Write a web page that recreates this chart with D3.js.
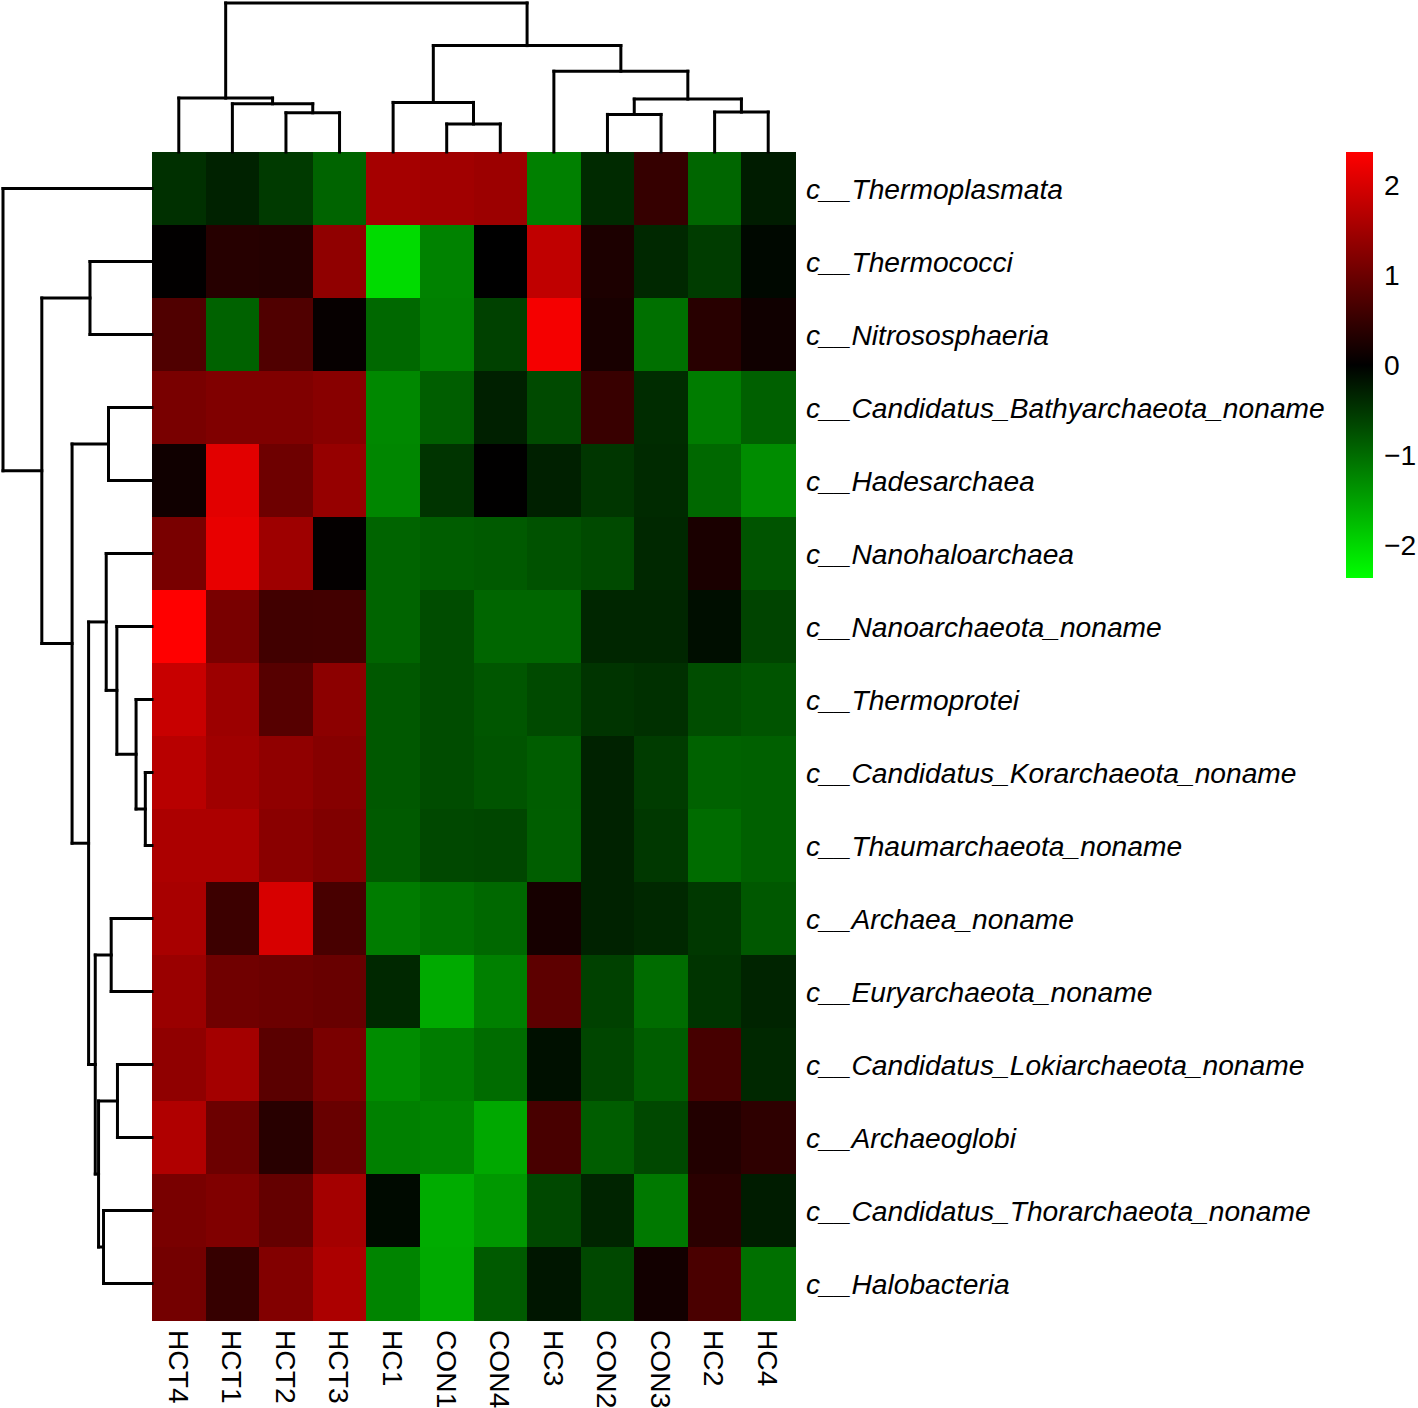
<!DOCTYPE html>
<html>
<head>
<meta charset="utf-8">
<script src="https://cdn.jsdelivr.net/npm/d3@7"></script>
<style>
  html, body { margin: 0; padding: 0; background: #fff; }
  svg { display: block; }
</style>
</head>
<body>
<svg id="chart" width="1418" height="1408"></svg>
<script>
// ---------------- DATA ----------------
const columns = ["HCT4","HCT1","HCT2","HCT3","HC1","CON1","CON4","HC3","CON2","CON3","HC2","HC4"];
const rows = [
  "c__Thermoplasmata",
  "c__Thermococci",
  "c__Nitrososphaeria",
  "c__Candidatus_Bathyarchaeota_noname",
  "c__Hadesarchaea",
  "c__Nanohaloarchaea",
  "c__Nanoarchaeota_noname",
  "c__Thermoprotei",
  "c__Candidatus_Korarchaeota_noname",
  "c__Thaumarchaeota_noname",
  "c__Archaea_noname",
  "c__Euryarchaeota_noname",
  "c__Candidatus_Lokiarchaeota_noname",
  "c__Archaeoglobi",
  "c__Candidatus_Thorarchaeota_noname",
  "c__Halobacteria"
];
// z-scores, one array per row, in column order above
const values = [
  [-0.45, -0.32, -0.54, -0.93,  1.53,  1.50,  1.45, -1.19, -0.39,  0.49, -0.95, -0.26],
  [ 0.02,  0.35,  0.33,  1.34, -2.04, -1.21,  0.00,  1.78,  0.26, -0.37, -0.56, -0.07],
  [ 0.74, -0.91,  0.74,  0.06, -0.97, -1.19, -0.60,  2.28,  0.22, -1.04,  0.37,  0.15],
  [ 1.12,  1.19,  1.19,  1.26, -1.26, -0.87, -0.30, -0.69,  0.52, -0.41, -1.15, -0.89],
  [ 0.15,  2.10,  1.02,  1.39, -1.25, -0.48,  0.01, -0.30, -0.50, -0.39, -0.97, -1.30],
  [ 1.12,  2.16,  1.47,  0.04, -0.93, -0.86, -0.84, -0.76, -0.69, -0.37,  0.24, -0.78],
  [ 2.37,  1.12,  0.60,  0.61, -0.93, -0.71, -0.95, -0.95, -0.35, -0.35, -0.13, -0.63],
  [ 1.86,  1.45,  0.80,  1.30, -0.82, -0.71, -0.80, -0.69, -0.48, -0.45, -0.72, -0.78],
  [ 1.71,  1.49,  1.34,  1.25, -0.82, -0.71, -0.78, -0.86, -0.32, -0.56, -0.91, -0.89],
  [ 1.60,  1.60,  1.28,  1.19, -0.84, -0.67, -0.65, -0.87, -0.32, -0.52, -1.00, -0.89],
  [ 1.56,  0.56,  2.00,  0.67, -1.15, -1.04, -0.97,  0.20, -0.32, -0.37, -0.52, -0.82],
  [ 1.43,  1.04,  1.00,  0.97, -0.37, -1.58, -1.19,  0.86, -0.60, -1.00, -0.48, -0.33],
  [ 1.34,  1.52,  0.84,  1.13, -1.30, -1.15, -1.00, -0.15, -0.65, -0.86,  0.65, -0.37],
  [ 1.64,  1.00,  0.37,  0.97, -1.19, -1.23, -1.56,  0.67, -0.86, -0.67,  0.32,  0.43],
  [ 1.12,  1.19,  0.93,  1.52, -0.09, -1.60, -1.41, -0.67, -0.33, -1.12,  0.39, -0.26],
  [ 1.08,  0.50,  1.21,  1.60, -1.23, -1.58, -0.84, -0.20, -0.67,  0.17,  0.69, -1.04]
];
// colour key range and ticks
const keyRange = [-2.37, 2.37];
const keyTicks = [2, 1, 0, -1, -2];

// dendrogram merge heights (cluster distances); leaves are names
const colTree = {h: 149.0, children: [
  {h: 53.9, children: ["HCT4", {h: 48.2, children: ["HCT1", {h: 39.2, children: ["HCT2", "HCT3"]}]}]},
  {h: 106.4, children: [
    {h: 49.6, children: ["HC1", {h: 28.0, children: ["CON1", "CON4"]}]},
    {h: 80.8, children: ["HC3", {h: 52.9, children: [
      {h: 37.6, children: ["CON2", "CON3"]},
      {h: 39.9, children: ["HC2", "HC4"]}
    ]}]}
  ]}
]};
const rowTree = {h: 149.7, children: [
  "c__Thermoplasmata",
  {h: 110.7, children: [
    {h: 62.3, children: ["c__Thermococci", "c__Nitrososphaeria"]},
    {h: 80.3, children: [
      {h: 43.7, children: ["c__Candidatus_Bathyarchaeota_noname", "c__Hadesarchaea"]},
      {h: 63.7, children: [
        {h: 46.0, children: ["c__Nanohaloarchaea",
          {h: 35.3, children: ["c__Nanoarchaeota_noname",
            {h: 16.0, children: ["c__Thermoprotei",
              {h: 6.7, children: ["c__Candidatus_Korarchaeota_noname", "c__Thaumarchaeota_noname"]}
            ]}
          ]}
        ]},
        {h: 57.0, children: [
          {h: 41.0, children: ["c__Archaea_noname", "c__Euryarchaeota_noname"]},
          {h: 53.7, children: [
            {h: 34.7, children: ["c__Candidatus_Lokiarchaeota_noname", "c__Archaeoglobi"]},
            {h: 48.7, children: ["c__Candidatus_Thorarchaeota_noname", "c__Halobacteria"]}
          ]}
        ]}
      ]}
    ]}
  ]}
]};

// ---------------- LAYOUT ----------------
const hm = {x0: 152, x1: 795, y0: 152, y1: 1320};
const dendroEdge = 3;
const svg = d3.select("#chart");
const FONT = "'Liberation Sans', Arial, Helvetica, sans-serif";

const x = d3.scaleBand().domain(columns).range([hm.x0, hm.x1]).padding(0);
const y = d3.scaleBand().domain(rows).range([hm.y0, hm.y1]).padding(0);
const color = d3.scaleLinear()
  .domain([keyRange[0], 0, keyRange[1]])
  .range(["#00FF00", "#000000", "#FF0000"])
  .interpolate(d3.interpolateRgb)
  .clamp(true);

// ---------------- HEATMAP ----------------
const cells = [];
rows.forEach((r, i) => columns.forEach((c, j) => cells.push({r, c, v: values[i][j]})));
svg.append("g").selectAll("rect").data(cells).join("rect")
  .attr("x", d => x(d.c))
  .attr("y", d => y(d.r))
  .attr("width", x.bandwidth() + 0.5)
  .attr("height", y.bandwidth() + 0.5)
  .attr("fill", d => color(d.v))
  .attr("shape-rendering", "crispEdges");

// ---------------- DENDROGRAMS ----------------
function buildRoot(tree) {
  return d3.hierarchy(tree, d => (typeof d === "string") ? null : d.children);
}
function drawDendro(tree, leafPos, hScale, horizontalTop) {
  const root = buildRoot(tree);
  root.eachAfter(n => {
    if (!n.children) { n.pos = leafPos(n.data); n.ht = 0; }
    else { n.pos = d3.mean(n.children, c => c.pos); n.ht = n.data.h; }
  });
  const segs = [];
  root.each(n => {
    if (!n.children) return;
    const hv = hScale(n.ht);
    const [a, b] = n.children;
    segs.push([a.pos, hv, b.pos, hv]);
    n.children.forEach(c => segs.push([c.pos, hv, c.pos, hScale(c.ht)]));
  });
  const g = svg.append("g")
    .attr("fill", "none").attr("stroke", "#000").attr("stroke-width", 3)
    .attr("stroke-linecap", "square");
  g.selectAll("line").data(segs).join("line")
    .attr("x1", d => horizontalTop ? d[0] : d[1])
    .attr("y1", d => horizontalTop ? d[1] : d[0])
    .attr("x2", d => horizontalTop ? d[2] : d[3])
    .attr("y2", d => horizontalTop ? d[3] : d[2]);
}
const colH = d3.scaleLinear().domain([0, colTree.h]).range([hm.y0, dendroEdge]);
drawDendro(colTree, name => x(name) + x.bandwidth() / 2, colH, true);
const rowH = d3.scaleLinear().domain([0, rowTree.h]).range([hm.x0, dendroEdge]);
drawDendro(rowTree, name => y(name) + y.bandwidth() / 2, rowH, false);

// ---------------- LABELS ----------------
svg.append("g").selectAll("text").data(rows).join("text")
  .attr("x", hm.x1 + 11)
  .attr("y", d => y(d) + y.bandwidth() / 2)
  .attr("dy", "0.36em")
  .attr("font-family", FONT)
  .attr("font-style", "italic")
  .attr("font-size", 28.2)
  .attr("fill", "#000")
  .text(d => d);

svg.append("g").selectAll("text").data(columns).join("text")
  .attr("transform", d => `translate(${x(d) + x.bandwidth() / 2},${hm.y1 + 10}) rotate(90)`)
  .attr("dy", "0.36em")
  .attr("text-anchor", "start")
  .attr("font-family", FONT)
  .attr("font-size", 28.2)
  .attr("fill", "#000")
  .text(d => d);

// ---------------- COLOUR KEY ----------------
const key = {x: 1346, w: 27, y0: 152, y1: 578};
const keyY = d3.scaleLinear().domain(keyRange).range([key.y1, key.y0]);
const defs = svg.append("defs");
const grad = defs.append("linearGradient").attr("id", "keygrad")
  .attr("x1", 0).attr("y1", 1).attr("x2", 0).attr("y2", 0);
d3.range(0, 1.0001, 0.05).forEach(t => {
  const v = keyRange[0] + t * (keyRange[1] - keyRange[0]);
  grad.append("stop").attr("offset", t).attr("stop-color", color(v));
});
svg.append("rect")
  .attr("x", key.x).attr("y", key.y0)
  .attr("width", key.w).attr("height", key.y1 - key.y0)
  .attr("fill", "url(#keygrad)");
svg.append("g").selectAll("text").data(keyTicks).join("text")
  .attr("x", key.x + key.w + 11)
  .attr("y", d => keyY(d))
  .attr("dy", "0.36em")
  .attr("font-family", FONT)
  .attr("font-size", 28.2)
  .attr("fill", "#000")
  .text(d => d < 0 ? "\u2212" + Math.abs(d) : String(d));
</script>
</body>
</html>
